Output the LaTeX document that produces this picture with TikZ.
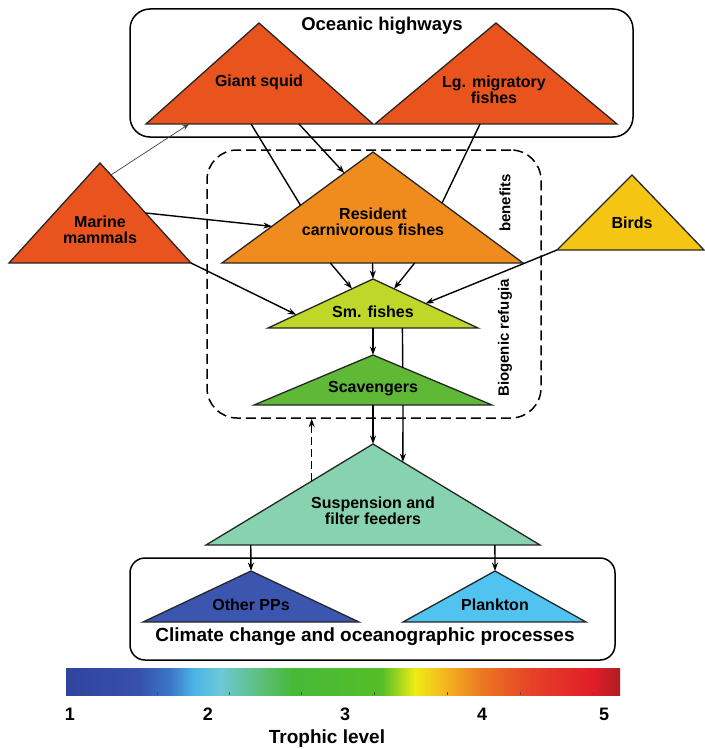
\documentclass[tikz,border=0pt]{standalone}
\usepackage{fontspec}
\setmainfont{Liberation Sans}
\usetikzlibrary{positioning,calc,arrows.meta}

\definecolor{redorange}{RGB}{233,84,30}
\definecolor{resorange}{RGB}{240,140,30}
\definecolor{birdyellow}{RGB}{245,197,20}
\definecolor{smgreen}{RGB}{190,215,40}
\definecolor{scavgreen}{RGB}{95,185,55}
\definecolor{suspmint}{RGB}{135,210,175}
\definecolor{ppblue}{RGB}{60,85,175}
\definecolor{plankblue}{RGB}{80,195,240}

\definecolor{tl0}{RGB}{48,68,158}
\definecolor{tl1}{RGB}{55,80,170}
\definecolor{tl2}{RGB}{60,120,200}
\definecolor{tl3}{RGB}{75,180,230}
\definecolor{tl4}{RGB}{110,200,215}
\definecolor{tl5}{RGB}{90,190,110}
\definecolor{tl6}{RGB}{70,185,55}
\definecolor{tl7}{RGB}{85,190,40}
\definecolor{tl8}{RGB}{240,235,20}
\definecolor{tl9}{RGB}{245,185,30}
\definecolor{tl10}{RGB}{235,120,35}
\definecolor{tl11}{RGB}{230,65,40}
\definecolor{tl12}{RGB}{225,30,40}
\definecolor{tl13}{RGB}{175,30,35}

\pgfdeclarehorizontalshading{trophic}{100bp}{color(0bp)=(tl0); color(25bp)=(tl0);
  color(31.5bp)=(tl1); color(34.5bp)=(tl2); color(36.5bp)=(tl3); color(39bp)=(tl4);
  color(43bp)=(tl5); color(45.5bp)=(tl6); color(53.5bp)=(tl7); color(56.5bp)=(tl8);
  color(59bp)=(tl9); color(62.5bp)=(tl10); color(67bp)=(tl11); color(72.5bp)=(tl12);
  color(75bp)=(tl13); color(100bp)=(tl13)}

\tikzset{
	tri/.style={draw=black!85, line width=1.3pt, line join=miter},
	lbl/.style={font=\bfseries\fontsize{16}{16}\selectfont, align=center, inner sep=0pt},
	title/.style={font=\bfseries\fontsize{19}{19}\selectfont, inner sep=0pt},
	zone/.style={draw, line width=1.5pt},
	link/.style={line width=1.4pt},
	arr/.style={link, -{Stealth[length=8.5pt,width=6pt]}},
	thinarr/.style={draw=black!75, line width=0.7pt, -{Stealth[length=7pt,width=5pt]}},
}

\begin{document}
\begin{tikzpicture}[x=1pt,y=-1pt]
	\useasboundingbox (0,0) rectangle (704,749);

	% boxes
	\node[zone, rounded corners=20pt, minimum width=503pt, minimum height=128pt] (highways) at (381.5,73) {};
	\node[zone, dashed, dash pattern=on 10pt off 5pt, rounded corners=30pt, minimum width=334pt, minimum height=268pt] (refugia) at (374,284) {};
	\node[zone, rounded corners=15pt, minimum width=485pt, minimum height=102pt] (climate) at (372.5,609) {};

	% triangles
	\coordinate (squidT) at (259,23); \coordinate (squidL) at (146,124); \coordinate (squidR) at (373,124);
	\coordinate (migrT) at (496,23); \coordinate (migrL) at (375,124); \coordinate (migrR) at (617,124);
	\coordinate (mamT) at (100,163); \coordinate (mamL) at (9,263); \coordinate (mamR) at (191,263);
	\coordinate (resT) at (373,152); \coordinate (resL) at (222,263); \coordinate (resR) at (523,263);
	\coordinate (birdT) at (632,175); \coordinate (birdL) at (557,250); \coordinate (birdR) at (704,250);
	\coordinate (smT) at (373,279); \coordinate (smL) at (268,328); \coordinate (smR) at (478,328);
	\coordinate (scT) at (373,355); \coordinate (scL) at (254,405); \coordinate (scR) at (492,405);
	\coordinate (suT) at (373,444); \coordinate (suL) at (206,545); \coordinate (suR) at (540,545);
	\coordinate (ppT) at (251,571); \coordinate (ppL) at (143,622); \coordinate (ppR) at (359,622);
	\coordinate (plT) at (495,571); \coordinate (plL) at (403,622); \coordinate (plR) at (586,622);

	\filldraw[tri, fill=redorange] (squidT) -- (squidL) -- (squidR) -- cycle;
	\filldraw[tri, fill=redorange] (migrT) -- (migrL) -- (migrR) -- cycle;
	\filldraw[tri, fill=redorange] (mamT) -- (mamL) -- (mamR) -- cycle;
	\filldraw[tri, fill=resorange] (resT) -- (resL) -- (resR) -- cycle;
	\filldraw[tri, fill=birdyellow] (birdT) -- (birdL) -- (birdR) -- cycle;
	\filldraw[tri, fill=smgreen] (smT) -- (smL) -- (smR) -- cycle;
	\filldraw[tri, fill=scavgreen] (scT) -- (scL) -- (scR) -- cycle;
	\filldraw[tri, fill=suspmint] (suT) -- (suL) -- (suR) -- cycle;
	\filldraw[tri, fill=ppblue] (ppT) -- (ppL) -- (ppR) -- cycle;
	\filldraw[tri, fill=plankblue] (plT) -- (plL) -- (plR) -- cycle;

	% labels
	\node[title, font=\bfseries\fontsize{18.5}{18.5}\selectfont] (hwtitle) at (382,26) {Oceanic highways};
	\node[lbl] (squid) at (259,82) {Giant squid};
	\node[lbl] (migr) at (494,90) {Lg. migratory\\fishes};
	\node[lbl] (mammals) at (100,230) {Marine\\mammals};
	\node[lbl] (resident) at (373,222) {Resident\\carnivorous fishes};
	\node[lbl] (birds) at (632,223) {Birds};
	\node[lbl, rotate=90, font=\bfseries\fontsize{15}{15}\selectfont] (benefits) at (505,203) {benefits};
	\node[lbl, rotate=90, font=\bfseries\fontsize{15}{15}\selectfont] (biogenic) at (505,338) {Biogenic refugia};
	\node[lbl] (smfish) at (373,312) {Sm. fishes};
	\node[lbl] (scav) at (373,389) {Scavengers};
	\node[lbl] (susp) at (373,511) {Suspension and\\filter feeders};
	\node[lbl] (otherpp) at (251,605) {Other PPs};
	\node[lbl] (plankton) at (495,605) {Plankton};
	\node[title] (cctitle) at (365,637) {Climate change and oceanographic processes};

	% connectors
	\draw[link] ($(squidL)!0.463!(squidR)$) -- ($(resT)!0.48!(resL)$);
	\draw[arr] ($(squidL)!0.674!(squidR)$) -- ($(resT)!0.19!(resL)$);
	\draw[link] ($(migrL)!0.434!(migrR)$) -- ($(resT)!0.46!(resR)$);
	\draw[thinarr] ($(mamT)!0.12!(mamR)$) -- ($(squidL)!0.19!(squidR)$);
	\draw[arr] ($(mamT)!0.5!(mamR)$) -- ($(resT)!0.67!(resL)$);
	\draw[arr] (mamR) -- ($(smT)!0.73!(smL)$);
	\draw[arr] ($(resL)!0.36!(resR)$) -- ($(smT)!0.2!(smL)$);
	\draw[arr] ($(resL)!0.5!(resR)$) -- (smT);
	\draw[arr] ($(resL)!0.64!(resR)$) -- ($(smT)!0.2!(smR)$);
	\draw[arr] (birdL) -- ($(smT)!0.5!(smR)$);
	\draw[arr] ($(smL)!0.5!(smR)$) -- (scT);
	\draw[link] ($(smL)!0.64!(smR)$) -- ($(scT)!0.25!(scR)$);
	\draw[arr] ($(scL)!0.5!(scR)$) -- (suT);
	\draw[arr] ($(scL)!0.626!(scR)$) -- ($(suT)!0.179!(suR)$);
	\coordinate (back) at ($(suT)!0.367!(suL)$);
	\draw[arr, dashed, dash pattern=on 8pt off 4pt] (back) -- (back |- refugia.south);
	\draw[arr] ($(suL)!0.134!(suR)$) -- (ppT);
	\draw[arr] ($(suL)!0.865!(suR)$) -- (plT);

	% trophic scale
	\node[shading=trophic, minimum width=554pt, minimum height=27pt, inner sep=0pt] (bar) at (343,681.5) {};
	\foreach \x in {84,157,229,301,374,447,520,593}
		\draw[black!70, line width=0.8pt] (\x,695) -- (\x,692);
	\foreach \v/\x in {1/70,2/208,3/345,4/482,5/604}
		\node[title, font=\bfseries\fontsize{18}{18}\selectfont] (tick\v) at (\x,714) {\v};
	\node[title] (trophic) at (327,739) {Trophic level};
\end{tikzpicture}
\end{document}
